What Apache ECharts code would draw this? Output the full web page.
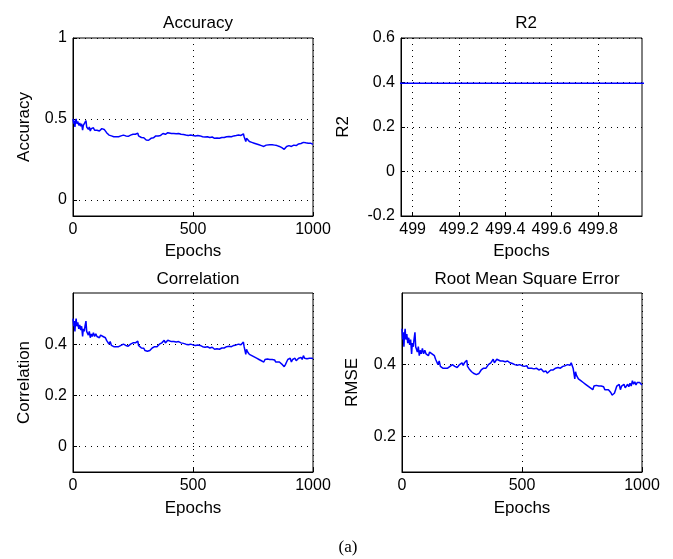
<!DOCTYPE html>
<html>
<head>
<meta charset="utf-8">
<script src="https://cdn.jsdelivr.net/npm/echarts@6/dist/echarts.min.js"></script>
<style>
html, body { margin: 0; padding: 0; background: #fff; }
#main { width: 673px; height: 559px; }
</style>
</head>
<body>
<div id="main"></div>
<script>
// epochs (same x for the three metric plots)
var epochs = [
	0, 3, 5, 8, 10, 13, 16, 20, 24, 28,
	32, 36, 40, 43, 47, 50, 54, 57, 60, 64,
	68, 72, 76, 80, 85, 90, 95, 100, 105, 110,
	115, 120, 125, 130, 135, 140, 145, 150, 155, 160,
	165, 170, 175, 180, 185, 190, 200, 205, 210, 220,
	225, 230, 240, 245, 250, 255, 260, 265, 270, 273,
	276, 280, 285, 290, 295, 300, 305, 310, 315, 320,
	325, 330, 335, 340, 345, 350, 355, 360, 365, 370,
	375, 380, 385, 390, 395, 400, 410, 415, 420, 430,
	440, 450, 460, 470, 480, 490, 500, 505, 510, 515,
	520, 525, 530, 540, 545, 550, 560, 570, 580, 590,
	595, 600, 605, 610, 620, 625, 630, 640, 650, 660,
	670, 680, 690, 700, 705, 710, 713, 716, 720, 723,
	727, 730, 735, 740, 745, 750, 755, 760, 765, 770,
	775, 780, 785, 790, 795, 800, 805, 810, 820, 825,
	830, 840, 845, 850, 860, 865, 870, 875, 880, 885,
	890, 895, 900, 905, 910, 915, 920, 925, 930, 935,
	940, 945, 950, 955, 960, 965, 970, 975, 980, 985,
	990, 995, 1000
];

// the three curves read the same in the picture
var rmseValues = [
	0.50, 0.47, 0.49, 0.45, 0.48, 0.50, 0.47, 0.485, 0.46, 0.475,
	0.455, 0.47, 0.43, 0.46, 0.45, 0.47, 0.49, 0.45, 0.455, 0.435,
	0.45, 0.425, 0.44, 0.43, 0.445, 0.43, 0.44, 0.43, 0.435, 0.425,
	0.435, 0.44, 0.43, 0.435, 0.425, 0.415, 0.42, 0.40, 0.41, 0.395,
	0.40, 0.39, 0.385, 0.39, 0.395, 0.39, 0.395, 0.39, 0.40, 0.395,
	0.40, 0.392, 0.40, 0.395, 0.405, 0.398, 0.405, 0.41, 0.412, 0.395,
	0.39, 0.388, 0.385, 0.38, 0.384, 0.375, 0.37, 0.372, 0.368, 0.375,
	0.38, 0.385, 0.383, 0.39, 0.395, 0.39, 0.395, 0.40, 0.398, 0.405,
	0.41, 0.415, 0.405, 0.41, 0.415, 0.412, 0.41, 0.413, 0.41, 0.408,
	0.41, 0.405, 0.403, 0.40, 0.398, 0.40, 0.397, 0.40, 0.395, 0.40,
	0.397, 0.39, 0.395, 0.39, 0.393, 0.388, 0.39, 0.385, 0.388, 0.38,
	0.375, 0.382, 0.376, 0.38, 0.385, 0.39, 0.385, 0.39, 0.392, 0.39,
	0.395, 0.397, 0.40, 0.398, 0.405, 0.408, 0.39, 0.395, 0.36, 0.38,
	0.37, 0.375, 0.36, 0.365, 0.355, 0.36, 0.35, 0.355, 0.345, 0.35,
	0.34, 0.345, 0.335, 0.34, 0.33, 0.34, 0.338, 0.342, 0.34, 0.335,
	0.34, 0.338, 0.33, 0.335, 0.33, 0.325, 0.322, 0.315, 0.312, 0.32,
	0.33, 0.34, 0.335, 0.345, 0.33, 0.34, 0.338, 0.345, 0.335, 0.34,
	0.345, 0.338, 0.348, 0.34, 0.355, 0.345, 0.352, 0.343, 0.35, 0.345,
	0.35, 0.345, 0.343
];
var accuracyValues = rmseValues;
var correlationValues = rmseValues;

var r2Epochs = [498.9, 500.1];
var r2Values = [0.397, 0.397];

// tick labels
var epochTicks = [0, 500, 1000];
var r2EpochTicks = [499, 499.2, 499.4, 499.6, 499.8];
var accuracyTicks = [0, 0.5, 1];
var r2Ticks = [-0.2, 0, 0.2, 0.4, 0.6];
var correlationTicks = [0, 0.2, 0.4];
var rmseTicks = [0.2, 0.4];

var FONT = 'Liberation Sans, Arial, sans-serif';

function pairs(xs, ys) {
	var out = [];
	for (var i = 0; i < xs.length; i++) out.push([xs[i], ys[i]]);
	return out;
}

function fmt(v) {
	return String(Math.round(v * 100) / 100);
}

function axis(idx, min, max, ticks, name, gap) {
	return {
		type : 'value',
		gridIndex : idx,
		min : min,
		max : max,
		name : name,
		nameLocation : 'middle',
		nameGap : gap,
		nameTextStyle : { color : '#000', fontSize : 17, fontFamily : FONT },
		axisLine : { show : true, onZero : false, lineStyle : { color : '#000', width : 1 } },
		axisTick : { show : true, inside : true, length : 4, customValues : ticks,
			lineStyle : { color : '#000' } },
		axisLabel : { customValues : ticks, formatter : fmt, color : '#000',
			fontSize : 16, fontFamily : FONT, margin : 6 },
		splitLine : { show : true, lineStyle : { color : '#000', width : 1, type : [1, 5] } }
	};
}

var grids = [
	{ left : 73, top : 38, width : 240, height : 178 },
	{ left : 401, top : 38, width : 241, height : 178 },
	{ left : 73, top : 293, width : 240, height : 179 },
	{ left : 402, top : 293, width : 240, height : 179 }
];
grids.forEach(function (g) {
	g.show = true;
	g.borderColor = '#000';
	g.borderWidth = 1;
	g.backgroundColor = '#fff';
});

function titleAt(text, x, y) {
	return {
		text : text, left : x, top : y, textAlign : 'center',
		textStyle : { color : '#000', fontSize : 17, fontWeight : 'normal', fontFamily : FONT }
	};
}

function lineSeries(idx, data) {
	return {
		type : 'line',
		xAxisIndex : idx,
		yAxisIndex : idx,
		data : data,
		showSymbol : false,
		clip : true,
		lineStyle : { color : '#0000ff', width : 1.5 },
		itemStyle : { color : '#0000ff' }
	};
}

var myChart = echarts.init(document.getElementById('main'));
var option = {
	backgroundColor : '#fff',
	animation : false,
	title : [
		titleAt('Accuracy', 193, 10),
		titleAt('R2', 521, 10),
		titleAt('Correlation', 193, 266),
		titleAt('Root Mean Square Error', 522, 266),
		{
			text : '(a)', left : 343, top : 534, textAlign : 'center',
			textStyle : { color : '#000', fontSize : 17, fontWeight : 'normal',
				fontFamily : 'Liberation Serif, Times New Roman, serif' }
		}
	],
	grid : grids,
	xAxis : [
		axis(0, 0, 1000, epochTicks, 'Epochs', 27),
		axis(1, 498.95, 499.99, r2EpochTicks, 'Epochs', 27),
		axis(2, 0, 1000, epochTicks, 'Epochs', 28),
		axis(3, 0, 1000, epochTicks, 'Epochs', 28)
	],
	yAxis : [
		axis(0, -0.1, 1, accuracyTicks, 'Accuracy', 40),
		axis(1, -0.2, 0.6, r2Ticks, 'R2', 49),
		axis(2, -0.1, 0.6, correlationTicks, 'Correlation', 40),
		axis(3, 0.1, 0.6, rmseTicks, 'RMSE', 41)
	],
	series : [
		lineSeries(0, pairs(epochs, accuracyValues)),
		lineSeries(1, pairs(r2Epochs, r2Values)),
		lineSeries(2, pairs(epochs, correlationValues)),
		lineSeries(3, pairs(epochs, rmseValues))
	]
};
myChart.setOption(option);
</script>
</body>
</html>
